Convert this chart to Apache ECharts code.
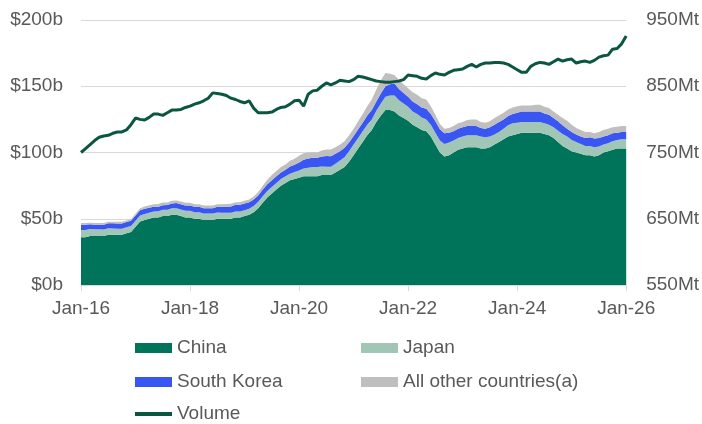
<!DOCTYPE html>
<html><head><meta charset="utf-8">
<script src="https://cdn.jsdelivr.net/npm/echarts@6/dist/echarts.min.js"></script>
<style>html,body{margin:0;padding:0;background:#fff}#c{width:702px;height:424px}</style>
</head><body><div id="c"></div>
<script>
const monthNames = ['Jan','Feb','Mar','Apr','May','Jun','Jul','Aug','Sep','Oct','Nov','Dec'];
const yearLabels = ['16','17','18','19','20','21','22','23','24','25','26'];
const tickLabels = ['Jan-16','Jan-18','Jan-20','Jan-22','Jan-24','Jan-26'];
const leftTicks = [0, 50, 100, 150, 200];
const rightTicks = [550, 650, 750, 850, 950];

const china = [36,36,37,37,37,37,38,38,38,38,39,40,
44,48,49,50,51,51,52,52,53,53,52,51,
51,50,50,49,49,49,50,50,50,50,51,51,
52,53,55,58,62,66,69,72,75,77,79,80,
81,82,82,82,82,83,83,83,85,87,89,93,
98,103,108,113,117,123,128,132,132,131,128,126,
124,121,119,117,116,112,106,100,97,98,100,102,
103,104,104,104,103,103,104,106,108,110,112,113,
114,115,115,115,115,115,114,113,111,108,105,103,
101,100,99,98,98,97,98,100,101,102,103,103,
103];
const japan = [5.5,5.5,5.2,5,5,4.8,4.8,4.6,4.5,4.5,4.5,4.5,
4.5,4.5,4.5,4.5,4.5,4.6,4.7,4.8,5,5,5,5,
5,5,5,5,5,5,4.8,4.6,4.5,4.5,4.5,4.5,
4.5,4.5,4.6,4.8,5,5,5,5,5,5,5,5.2,
5.5,6,6.5,7,7,6.5,6.3,6.2,6.5,7,7.5,8,
8,8,8,8,8,8.5,9,10,11,12,11.5,11,
10.5,10,10,9.5,9,9,9,9,9.5,9.5,9,9,
9,9,9,9,9,8.5,8,7.5,7.5,8,8.5,9,
8.5,8,8,8,8,8,8,8,8,8.5,9,9,
8.5,8,7.5,7,7,7,6.5,6,6,6.5,6.5,7,
7];
const korea = [4,4,3.6,3.5,3.5,3.6,3.8,4,4,4,4,4,
4,4,4,3.8,3.5,3.5,3.5,3.5,3.6,3.8,4,4,
4,4,4,4,4,4,4.2,4.4,4.6,4.8,5,5,
5,5,5,4.8,5,5,5,5,5,5,5.5,5.5,
6,6.5,7,7,7,7.5,8,8,7.5,7,7,6.5,
6.5,6.5,6.5,7,7,7,7.5,8,8.5,9,8.5,8,
7.5,7.5,7.5,7.5,8,8,8.5,8.5,8,7.5,7,7,
7,7,7,7,6.5,6.5,7,7.5,7.5,7,7,7,
7.5,8,8,8,8,8,7.5,7.5,7,7,6.5,6,
6,5.5,5.5,6,6.5,6.5,6.5,6,6,6,5.5,5.5,
5.5];
const other = [1.2,1.2,1.2,1.3,1.3,1.3,1.2,1.2,1.2,1.2,1.2,1.2,
1.3,1.5,1.7,1.8,2,2,2,2,2,2,2,2,
2,2,2,2,2,2,2,2,2,2,2,2,
2,2,2.2,2.6,3,3.5,4,4,4,4,4.2,4.5,
5,5,4.5,4.2,4,4.5,5,5,5,5,5,5.5,
5.5,6,6.5,7,8,9,10,10,8,6.5,6.5,6.5,
6.5,7,7,7,7,6,5,4,3.5,3.5,4,4,
4,4.5,5,5,4.5,4.5,4.5,5,5,5,5,5,
5,4.5,4.5,4.5,5,5,5,5,5,5,5.5,6,
5.5,5,5,4.5,4,4,4.5,5,5,4.5,4.5,4.5,
4.5];
const volume = [750,756,762,768,773,775,776,779,781,781,784,792,
802,800,799,803,808,808,806,810,814,814,815,818,
820,823,825,828,832,840,839,838,836,832,830,827,
825,828,817,810,810,810,811,815,818,819,823,828,
829,820,838,843,844,850,855,852,855,859,858,857,
860,865,864,862,860,858,857,856,856,857,858,860,
867,866,865,862,861,866,870,868,867,871,874,875,
876,880,883,879,883,885,885,886,886,885,883,879,
875,871,871,880,884,886,885,883,887,891,888,890,
891,885,887,888,886,889,894,896,897,906,907,914,
926];

const categories = [];
for (let y = 0; y < yearLabels.length; y++) {
  for (let m = 0; m < 12; m++) {
    if (categories.length < china.length) categories.push(monthNames[m] + '-' + yearLabels[y]);
  }
}

const FONT = 'Liberation Sans';
const TXT = '#595959';
const colors = {china:'#00745A', japan:'#A2C6B6', korea:'#3A56F2', other:'#BFBFBF', volume:'#0B5640'};

function areaSeries(name, data, color) {
  return {name, type:'line', stack:'total', data, yAxisIndex:0,
    showSymbol:false, symbol:'none', lineStyle:{width:0}, itemStyle:{color},
    areaStyle:{color, opacity:1}, emphasis:{disabled:true}, z:2};
}
function legendAt(name, left, cy, iconH) {
  return {data:[name], left, top: cy - 10, padding:0, itemWidth:37, itemHeight:iconH, icon:'rect',
    itemGap:0, textStyle:{fontFamily:FONT, fontSize:19, color:TXT, lineHeight:20}, selectedMode:false};
}

const chart = echarts.init(document.getElementById('c'), null, {renderer:'canvas'});
chart.setOption({
  animation:false,
  grid:{left:81, right:75, top:20, bottom:139, containLabel:false},
  legend:[
    legendAt('China', 135, 348, 10),
    legendAt('South Korea', 135, 382, 10),
    legendAt('Volume', 135, 414, 4),
    legendAt('Japan', 361, 348, 10),
    legendAt('All other countries(a)', 361, 382, 10)
  ],
  xAxis:{type:'category', data:categories, boundaryGap:false,
    axisLine:{lineStyle:{color:'#d9d9d9', width:1}},
    axisTick:{show:true, interval:(i)=> i % 24 === 0, length:6, lineStyle:{color:'#d9d9d9'}},
    axisLabel:{interval:(i)=> i % 24 === 0, margin:14, fontFamily:FONT, fontSize:19, color:TXT,
      formatter:(v)=> tickLabels.indexOf(v) >= 0 ? v : ''},
    splitLine:{show:false}},
  yAxis:[
    {type:'value', min:leftTicks[0], max:leftTicks[leftTicks.length-1], interval:50,
      axisLine:{show:false}, axisTick:{show:false},
      axisLabel:{margin:18, fontFamily:FONT, fontSize:19, color:TXT, formatter:(v)=> '$' + v + 'b'},
      splitLine:{lineStyle:{color:'#d9d9d9', width:1}}},
    {type:'value', min:rightTicks[0], max:rightTicks[rightTicks.length-1], interval:100,
      axisLine:{show:false}, axisTick:{show:false},
      axisLabel:{margin:20, fontFamily:FONT, fontSize:19, color:TXT, formatter:(v)=> v + 'Mt'},
      splitLine:{show:false}}
  ],
  series:[
    areaSeries('China', china, colors.china),
    areaSeries('Japan', japan, colors.japan),
    areaSeries('South Korea', korea, colors.korea),
    areaSeries('All other countries(a)', other, colors.other),
    {name:'Volume', type:'line', data:volume, yAxisIndex:1, showSymbol:false, symbol:'none',
      lineStyle:{color:colors.volume, width:3}, itemStyle:{color:colors.volume}, z:5, emphasis:{disabled:true}}
  ]
});
</script></body></html>
